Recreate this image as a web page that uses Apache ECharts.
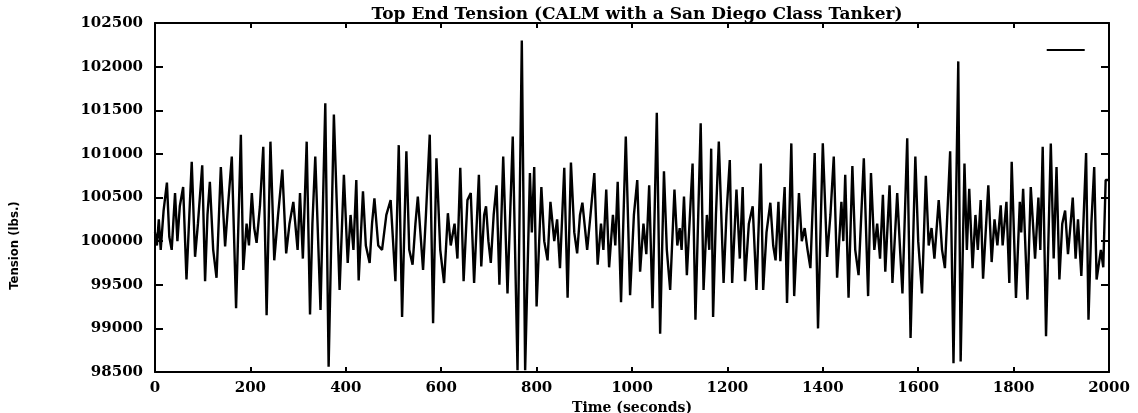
<!DOCTYPE html>
<html lang="en">
<head>
    <meta charset="UTF-8">
    <title>Top End Tension</title>
    <style>
        *{
            margin:0;
            padding:0;
            box-sizing:border-box;
        }
        html, body{
            height:100%;
            width:100%;
            background:#fff;
        }
        #myChart{
            height:413px;
            width:1138px;
        }
    </style>
</head>
<body>
<div id="myChart"></div>
<script src="https://cdn.jsdelivr.net/npm/echarts@6/dist/echarts.min.js"></script>
<script>
    // time (s) and tension (lbs.), extrema plus a few in-between wiggles
    var times = [
        0, 4, 8, 12, 18, 25, 30, 35, 42, 47, 52, 59, 66, 72, 77, 84, 90, 99, 105, 110,
        115, 122, 129, 138, 147, 153, 161, 170, 180, 185, 192, 197, 203, 208, 213, 220, 227, 234, 242, 250,
        258, 267, 275, 282, 290, 299, 304, 310, 318, 325, 330, 336, 347, 357, 364, 375, 387, 396, 404, 410,
        416, 422, 427, 436, 442, 450, 455, 460, 468, 476, 485, 494, 504, 511, 518, 527, 533, 540, 546, 551,
        562, 568, 576, 583, 590, 598, 606, 614, 620, 628, 634, 640, 647, 655, 662, 669, 679, 684, 690, 694,
        699, 704, 710, 716, 722, 730, 739, 750, 760, 769, 776, 786, 790, 795, 800, 810, 816, 823, 829, 837,
        843, 849, 858, 865, 872, 879, 885, 891, 896, 906, 913, 921, 928, 935, 940, 946, 952, 960, 965, 970,
        977, 987, 996, 1004, 1011, 1017, 1024, 1030, 1036, 1043, 1052, 1059, 1067, 1073, 1080, 1089, 1095, 1100, 1104, 1109,
        1115, 1127, 1133, 1144, 1150, 1157, 1162, 1166, 1170, 1176, 1182, 1192, 1198, 1205, 1210, 1219, 1226, 1232, 1237, 1245,
        1253, 1261, 1270, 1275, 1282, 1290, 1296, 1301, 1307, 1311, 1320, 1325, 1334, 1340, 1350, 1356, 1362, 1368, 1374, 1383,
        1390, 1400, 1409, 1416, 1423, 1430, 1439, 1443, 1447, 1454, 1462, 1468, 1475, 1486, 1495, 1501, 1508, 1514, 1520, 1526,
        1531, 1540, 1546, 1556, 1562, 1567, 1577, 1584, 1594, 1600, 1608, 1616, 1622, 1628, 1634, 1643, 1650, 1656, 1667, 1674,
        1684, 1689, 1697, 1702, 1707, 1714, 1720, 1725, 1731, 1736, 1747, 1754, 1760, 1766, 1773, 1777, 1785, 1791, 1796, 1805,
        1813, 1816, 1820, 1829, 1836, 1845, 1852, 1856, 1861, 1868, 1878, 1884, 1890, 1896, 1902, 1908, 1914, 1918, 1924, 1930,
        1935, 1942, 1947, 1952, 1957, 1963, 1969, 1974, 1983, 1988, 1993, 2000
    ];
    var tension = [
        100100, 99950, 100250, 99900, 100350, 100670, 100050, 99900, 100550, 100000, 100400, 100620, 99560, 100300, 100910, 99820, 100200, 100870, 99540, 100300,
        100680, 99900, 99580, 100850, 99940, 100400, 100970, 99230, 101220, 99670, 100200, 99950, 100550, 100150, 99980, 100400, 101080, 99150, 101140, 99780,
        100300, 100820, 99860, 100200, 100450, 99900, 100550, 99800, 101140, 99160, 100200, 100970, 99210, 101580, 98560, 101450, 99440, 100760, 99750, 100300,
        99900, 100700, 99550, 100570, 99950, 99750, 100200, 100490, 99950, 99900, 100300, 100470, 99540, 101100, 99130, 101030, 99900, 99730, 100200, 100510,
        99670, 100300, 101220, 99060, 100950, 99900, 99520, 100320, 99950, 100200, 99800, 100840, 99540, 100470, 100550, 99520, 100760, 99710, 100300, 100400,
        100000, 99750, 100300, 100640, 99500, 100970, 99400, 101200, 98520, 102300, 98520, 100780, 100100, 100850, 99250, 100620, 100000, 99780, 100450, 100000,
        100250, 99690, 100840, 99350, 100900, 100100, 99860, 100300, 100440, 99900, 100300, 100780, 99730, 100200, 99900, 100590, 99700, 100300, 99950, 100680,
        99300, 101200, 99380, 100300, 100700, 99650, 100200, 99850, 100640, 99230, 101470, 98940, 100800, 99900, 99440, 100590, 99950, 100150, 99900, 100510,
        99610, 100890, 99100, 101350, 99440, 100300, 99900, 101060, 99130, 100300, 101140, 99520, 100300, 100930, 99520, 100590, 99800, 100620, 99540, 100200,
        100400, 99440, 100890, 99440, 100100, 100440, 99950, 99780, 100450, 99770, 100620, 99290, 101120, 99370, 100550, 100000, 100150, 99900, 99690, 101010,
        99000, 101120, 99820, 100300, 100970, 99580, 100450, 100000, 100760, 99350, 100860, 99900, 99610, 100950, 99370, 100780, 99900, 100200, 99800, 100530,
        99650, 100640, 99520, 100550, 99900, 99400, 101180, 98890, 100970, 100000, 99400, 100750, 99950, 100150, 99800, 100470, 99900, 99690, 101030, 98600,
        102060, 98620, 100890, 99900, 100600, 99690, 100300, 99900, 100470, 99570, 100640, 99760, 100250, 99950, 100410, 99950, 100450, 99520, 100910, 99350,
        100450, 100100, 100600, 99330, 100620, 99800, 100500, 99900, 101080, 98910, 101120, 99800, 100850, 99560, 100200, 100350, 99850, 100100, 100500, 99800,
        100250, 99600, 100300, 101010, 99100, 100200, 100850, 99560, 99900, 99700, 100700, 100700
    ];
    var xTicks = [0, 200, 400, 600, 800, 1000, 1200, 1400, 1600, 1800, 2000];
    var yTicks = [98500, 99000, 99500, 100000, 100500, 101000, 101500, 102000, 102500];

    var seriesData = times.map(function(t, i) {
        return [t, tension[i]];
    });

    var labelFont = {
        color:'#000',
        fontFamily:'DejaVu Serif',
        fontWeight:'bold',
        fontSize:15
    };
    var xMin = xTicks[0], xMax = xTicks[xTicks.length - 1];
    var yMin = yTicks[0], yMax = yTicks[yTicks.length - 1];
    var xStep = xTicks[1] - xTicks[0], yStep = yTicks[1] - yTicks[0];

    function ticks(len) {
        return {show:true, inside:true, length:len, lineStyle:{color:'#000', width:2}};
    }
    // onZero off, otherwise the mirror axes jump onto x = 0
    var frameLine = {show:true, onZero:false, lineStyle:{color:'#000', width:2}};

    var myChart = echarts.init(document.getElementById('myChart'), null, {renderer:'canvas'});
    var option = {
        animation:false,
        backgroundColor:'#fff',
        title:{
            text:'Top End Tension (CALM with a San Diego Class Tanker)',
            left:632,
            textAlign:'center',
            top:1,
            textStyle:{
                color:'#000',
                fontFamily:'DejaVu Serif',
                fontWeight:'bold',
                fontSize:17
            }
        },
        legend:{
            right:43,
            top:44,
            icon:'rect',
            itemWidth:38,
            itemHeight:2,
            textStyle:{fontSize:1, color:'#fff'},
            data:[' ']
        },
        grid:{
            left:155,
            right:29,
            top:23,
            bottom:41,
            containLabel:false,
            outerBoundsMode:'none'
        },
        xAxis:[
            {
                type:'value',
                min:xMin,
                max:xMax,
                interval:xStep,
                name:'Time (seconds)',
                nameLocation:'middle',
                nameGap:24,
                nameTextStyle:{
                    color:'#000',
                    fontFamily:'DejaVu Serif',
                    fontWeight:'bold',
                    fontSize:14
                },
                axisLine:frameLine,
                axisTick:ticks(5),
                splitLine:{show:false},
                axisLabel:Object.assign({margin:9, formatter:function(v) { return String(v); }}, labelFont)
            },
            {
                type:'value',
                position:'top',
                min:xMin,
                max:xMax,
                interval:xStep,
                axisLine:frameLine,
                axisTick:ticks(5),
                splitLine:{show:false},
                axisLabel:{show:false}
            }
        ],
        yAxis:[
            {
                type:'value',
                position:'left',
                min:yMin,
                max:yMax,
                interval:yStep,
                name:'Tension (lbs.)',
                nameLocation:'middle',
                nameGap:134,
                nameRotate:90,
                nameTextStyle:{
                    color:'#000',
                    fontFamily:'DejaVu Sans Condensed',
                    fontWeight:'bold',
                    fontSize:13,
                    padding:[0, 96, 0, 0]
                },
                axisLine:frameLine,
                axisTick:ticks(8),
                splitLine:{show:false},
                axisLabel:Object.assign({margin:12, formatter:function(v) { return String(v); }}, labelFont)
            },
            {
                type:'value',
                position:'right',
                min:yMin,
                max:yMax,
                interval:yStep,
                axisLine:frameLine,
                axisTick:ticks(8),
                splitLine:{show:false},
                axisLabel:{show:false}
            }
        ],
        series:[
            {
                name:' ',
                type:'line',
                xAxisIndex:0,
                yAxisIndex:0,
                data:seriesData,
                showSymbol:false,
                symbol:'none',
                color:'#000',
                lineStyle:{color:'#000', width:2.4},
                z:3
            }
        ]
    };
    myChart.setOption(option);
</script>
</body>
</html>
